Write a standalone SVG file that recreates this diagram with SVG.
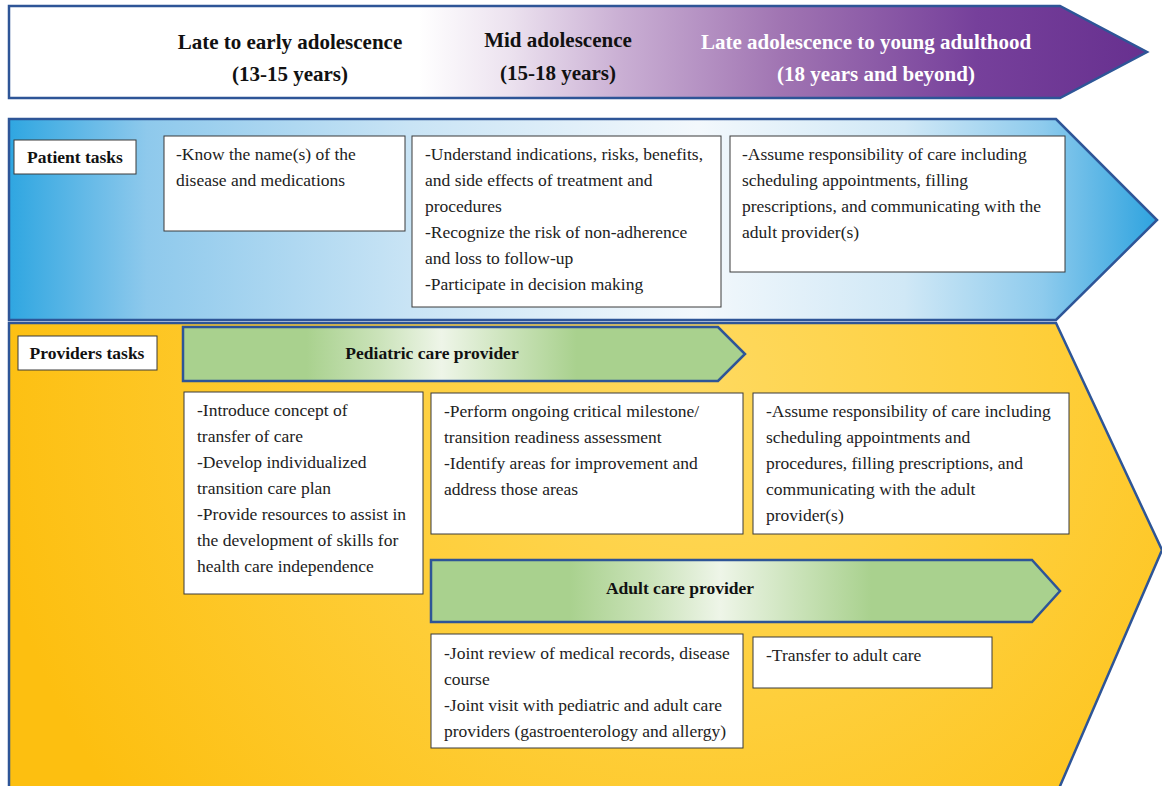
<svg xmlns="http://www.w3.org/2000/svg" width="1162" height="786" viewBox="0 0 1162 786">
<defs>
<linearGradient id="gTop" gradientUnits="userSpaceOnUse" x1="9" y1="0" x2="1147" y2="0">
<stop offset="0" stop-color="#ffffff"/>
<stop offset="0.36" stop-color="#ffffff"/>
<stop offset="0.44" stop-color="#ece2ef"/>
<stop offset="0.54" stop-color="#c9aed3"/>
<stop offset="0.68" stop-color="#a074b2"/>
<stop offset="0.85" stop-color="#76409b"/>
<stop offset="1" stop-color="#67308f"/>
</linearGradient>
<linearGradient id="gBlue" gradientUnits="userSpaceOnUse" x1="9" y1="0" x2="1157" y2="0">
<stop offset="0" stop-color="#2fa6e1"/>
<stop offset="0.12" stop-color="#8ec9ec"/>
<stop offset="0.35" stop-color="#c9e4f5"/>
<stop offset="0.6" stop-color="#f3f8fc"/>
<stop offset="0.78" stop-color="#d0e8f6"/>
<stop offset="0.9" stop-color="#8ecbed"/>
<stop offset="1" stop-color="#2ea3df"/>
</linearGradient>
<radialGradient id="gYellow" gradientUnits="userSpaceOnUse" cx="700" cy="380" r="720">
<stop offset="0" stop-color="#fed95f"/>
<stop offset="0.45" stop-color="#fecf3c"/>
<stop offset="1" stop-color="#fdbf10"/>
</radialGradient>
<linearGradient id="gGreen" x1="0" y1="0" x2="1" y2="0">
<stop offset="0" stop-color="#a9d18e"/>
<stop offset="0.22" stop-color="#a9d18e"/>
<stop offset="0.35" stop-color="#cbe3ba"/>
<stop offset="0.46" stop-color="#eef5e8"/>
<stop offset="0.58" stop-color="#cbe3ba"/>
<stop offset="0.7" stop-color="#a9d18e"/>
<stop offset="1" stop-color="#a9d18e"/>
</linearGradient>
<style>
.band{stroke:#2e5597;stroke-width:2.5;stroke-linejoin:miter}
.box{fill:#ffffff;stroke:#3a3a3a;stroke-width:1}
.lbl{font-family:"Liberation Serif",serif;font-weight:bold;font-size:17.5px;fill:#111}
.hd{font-family:"Liberation Serif",serif;font-weight:bold;font-size:21px;text-anchor:middle;fill:#111}
.wh{fill:#ffffff}
.t{font-family:"Liberation Serif",serif;font-size:17.5px;fill:#222}
.arr{fill:url(#gGreen);stroke:#2e5597;stroke-width:2.5}
</style>
</defs>

<g id="timeline">
<polygon class="band" fill="url(#gTop)" points="9,6 1060,6 1147,52 1060,98 9,98"/>
<text class="hd" x="290" y="49">Late to early adolescence</text>
<text class="hd" x="290" y="81">(13-15 years)</text>
<text class="hd" x="558" y="47">Mid adolescence</text>
<text class="hd" x="558" y="80">(15-18 years)</text>
<text class="hd wh" x="866" y="49">Late adolescence to young adulthood</text>
<text class="hd wh" x="876" y="81">(18 years and beyond)</text>
</g>

<g id="patient-band">
<polygon class="band" fill="url(#gBlue)" points="9,119 1056,119 1157,220 1056,320 9,320"/>
</g>

<g id="provider-band">
<polygon class="band" fill="url(#gYellow)" points="9,323 1056,323 1162,550 1054,800 9,800"/>
</g>

<g id="patient-label">
<rect class="box" x="14" y="140" width="122" height="34"/>
<text class="lbl" x="75" y="163" text-anchor="middle">Patient tasks</text>
</g>

<g id="patient-early">
<rect class="box" x="164" y="136" width="241" height="95"/>
<text class="t" x="176" y="160">-Know the name(s) of the</text>
<text class="t" x="176" y="186">disease and medications</text>
</g>

<g id="patient-mid">
<rect class="box" x="412" y="136" width="309" height="171"/>
<text class="t" x="425" y="160">-Understand indications, risks, benefits,</text>
<text class="t" x="425" y="186">and side effects of treatment and</text>
<text class="t" x="425" y="212">procedures</text>
<text class="t" x="425" y="238">-Recognize the risk of non-adherence</text>
<text class="t" x="425" y="264">and loss to follow-up</text>
<text class="t" x="425" y="290">-Participate in decision making</text>
</g>

<g id="patient-late">
<rect class="box" x="730" y="136" width="335" height="136"/>
<text class="t" x="742" y="160">-Assume responsibility of care including</text>
<text class="t" x="742" y="186">scheduling appointments, filling</text>
<text class="t" x="742" y="212">prescriptions, and communicating with the</text>
<text class="t" x="742" y="238">adult provider(s)</text>
</g>

<g id="provider-label">
<rect class="box" x="18" y="336" width="139" height="34"/>
<text class="lbl" x="87" y="359" text-anchor="middle">Providers tasks</text>
</g>

<g id="pediatric-provider">
<polygon class="arr" points="183,327 718,327 745,354 718,381 183,381"/>
<text class="lbl" x="432" y="359" text-anchor="middle">Pediatric care provider</text>
</g>

<g id="provider-early">
<rect class="box" x="184" y="392" width="239" height="202"/>
<text class="t" x="197" y="416">-Introduce concept of</text>
<text class="t" x="197" y="442">transfer of care</text>
<text class="t" x="197" y="468">-Develop individualized</text>
<text class="t" x="197" y="494">transition care plan</text>
<text class="t" x="197" y="520">-Provide resources to assist in</text>
<text class="t" x="197" y="546">the development of skills for</text>
<text class="t" x="197" y="572">health care independence</text>
</g>

<g id="provider-mid">
<rect class="box" x="431" y="393" width="312" height="141"/>
<text class="t" x="444" y="417">-Perform ongoing critical milestone/</text>
<text class="t" x="444" y="443">transition readiness assessment</text>
<text class="t" x="444" y="469">-Identify areas for improvement and</text>
<text class="t" x="444" y="495">address those areas</text>
</g>

<g id="provider-late">
<rect class="box" x="753" y="393" width="316" height="141"/>
<text class="t" x="766" y="417">-Assume responsibility of care including</text>
<text class="t" x="766" y="443">scheduling appointments and</text>
<text class="t" x="766" y="469">procedures, filling prescriptions, and</text>
<text class="t" x="766" y="495">communicating with the adult</text>
<text class="t" x="766" y="521">provider(s)</text>
</g>

<g id="adult-provider">
<polygon class="arr" points="431,560 1032,560 1060,591 1032,622 431,622"/>
<text class="lbl" x="680" y="594" text-anchor="middle">Adult care provider</text>
</g>

<g id="adult-mid">
<rect class="box" x="431" y="634" width="312" height="114"/>
<text class="t" x="444" y="659">-Joint review of medical records, disease</text>
<text class="t" x="444" y="685">course</text>
<text class="t" x="444" y="711">-Joint visit with pediatric and adult care</text>
<text class="t" x="444" y="737">providers (gastroenterology and allergy)</text>
</g>

<g id="adult-late">
<rect class="box" x="753" y="637" width="239" height="51"/>
<text class="t" x="766" y="661">-Transfer to adult care</text>
</g>

<g id="connectors"></g>
</svg>
